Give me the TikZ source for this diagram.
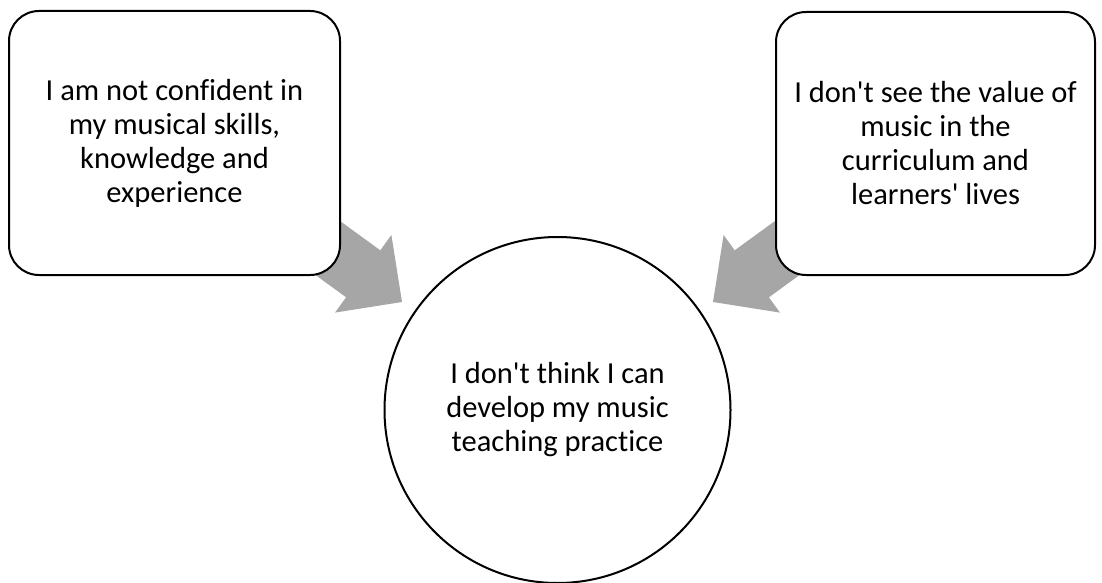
\documentclass[tikz,border=0pt]{standalone}
\usepackage{fontspec}
\setmainfont{Carlito}[Ligatures={NoCommon}]
\definecolor{arrowgray}{HTML}{A6A6A6}
\newcommand{\sq}{\textquotesingle}
\begin{document}
\begin{tikzpicture}[x=1pt,y=-1pt,
  txt/.style={align=center,font=\fontsize{30.5}{34}\selectfont},
  bubble/.style={txt,draw=black,line width=2pt,fill=white,rounded corners=30pt,inner sep=0pt},
  goal/.style={txt,draw=black,line width=2pt,fill=white,circle,inner sep=0pt,minimum size=346pt},
  blockarrow/.style={fill=arrowgray,draw=none}]
\useasboundingbox (0,0) rectangle (1102,583);
% block arrows (drawn first, hidden tails under boxes)
\coordinate (lt) at (402,302);
\coordinate (rt) at (713,302);
\fill[blockarrow] (lt) -- (391.4,235) -- (380.3,250.3) -- (289.7,184.4) -- (255.5,231.4) -- (346.1,297.3) -- (335,312.6) -- cycle;
\fill[blockarrow] (rt) -- (723.6,235) -- (734.7,250.3) -- (825.3,184.4) -- (859.5,231.4) -- (768.9,297.3) -- (780,312.6) -- cycle;
% nodes
\node[bubble,minimum width=331pt,minimum height=264pt] (conf) at (174.5,143)
  {I am not confident in\\my musical skills,\\knowledge and\\experience};
\node[bubble,minimum width=319pt,minimum height=263pt] (value) at (935.5,143.5)
  {I don\sq t see the value of\\music in the\\curriculum and\\learners\sq{} lives};
\node[goal] (dev) at (557.5,410)
  {I don\sq t think I can\\develop my music\\teaching practice};
\end{tikzpicture}
\end{document}
